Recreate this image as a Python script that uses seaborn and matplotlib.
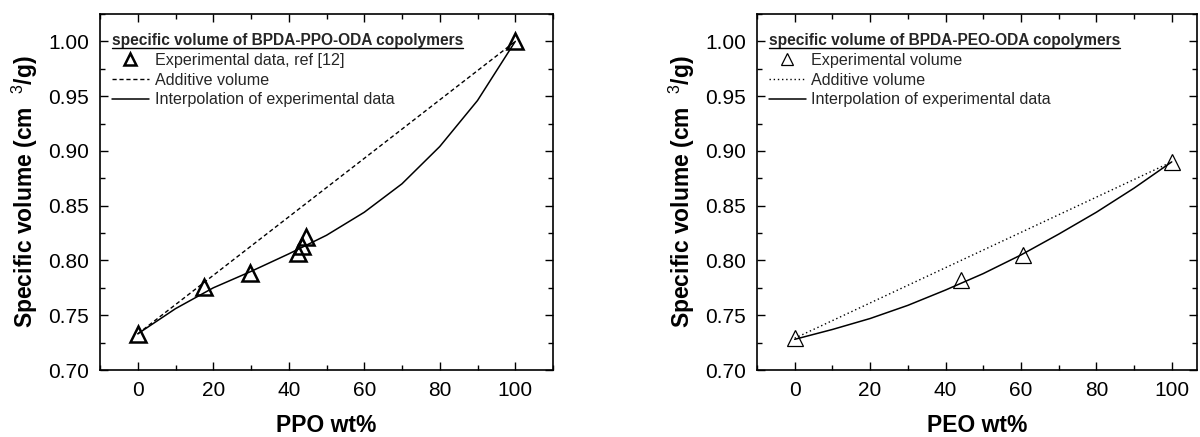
import matplotlib
matplotlib.use("Agg")
import matplotlib.pyplot as plt
import seaborn as sns
import pandas as pd
from matplotlib.lines import Line2D
from matplotlib.ticker import MultipleLocator

# ---------------- data ----------------
ppo_exp_x = [0, 17.5, 29.7, 42.5, 43.5, 44.5, 100]
ppo_exp_y = [0.733, 0.776, 0.789, 0.807, 0.813, 0.821, 1.000]
ppo_add_x = [0, 100]
ppo_add_y = [0.733, 1.000]
ppo_int_x = [0, 10, 20, 30, 40, 50, 60, 70, 80, 90, 100]
ppo_int_y = [0.733, 0.756, 0.775, 0.790, 0.806, 0.823, 0.844, 0.870, 0.904, 0.946, 1.000]

peo_exp_x = [0, 44, 60.5, 100]
peo_exp_y = [0.729, 0.782, 0.805, 0.890]
peo_add_x = [0, 100]
peo_add_y = [0.729, 0.890]
peo_int_x = [0, 10, 20, 30, 40, 50, 60, 70, 80, 90, 100]
peo_int_y = [0.728, 0.737, 0.747, 0.759, 0.773, 0.788, 0.805, 0.824, 0.844, 0.866, 0.890]

x_ticks = [0, 20, 40, 60, 80, 100]
y_ticks = [0.70, 0.75, 0.80, 0.85, 0.90, 0.95, 1.00]

sns.set_theme(style="ticks")
plt.rcParams['font.family'] = ['Liberation Sans', 'DejaVu Sans']
plt.rcParams['mathtext.fontset'] = 'custom'
plt.rcParams['mathtext.rm'] = 'Liberation Sans'

fig = plt.figure(figsize=(12, 4.37), dpi=100)
W, H = 1200, 437
ax1 = fig.add_axes([100 / W, (H - 370) / H, 453 / W, 356 / H])
ax2 = fig.add_axes([757 / W, (H - 370) / H, 440 / W, 356 / H])

panels = [
    (ax1, ppo_exp_x, ppo_exp_y, ppo_add_x, ppo_add_y, ppo_int_x, ppo_int_y,
     "PPO wt%", "specific volume of BPDA-PPO-ODA copolymers",
     ["Experimental data, ref [12]", "Additive volume", "Interpolation of experimental data"],
     (0, (3, 2)), 1.8, (-10, 110)),
    (ax2, peo_exp_x, peo_exp_y, peo_add_x, peo_add_y, peo_int_x, peo_int_y,
     "PEO wt%", "specific volume of BPDA-PEO-ODA copolymers",
     ["Experimental volume", "Additive volume", "Interpolation of experimental data"],
     (0, (1, 2)), 0.9, (-10, 106.7)),
]

titles = []
for (ax, ex, ey, axx, ayy, ix, iy, xl, ttl, labels, ls, mlw, xlim) in panels:
    sns.lineplot(x=axx, y=ayy, ax=ax, color="black", linewidth=1.0, linestyle=ls)
    sns.lineplot(x=ix, y=iy, ax=ax, color="black", linewidth=1.1)
    ax.plot(ex, ey, linestyle="none", marker="^", markersize=11,
            markerfacecolor="none", markeredgecolor="black", markeredgewidth=mlw)
    ax.set_xlim(*xlim)
    ax.set_ylim(0.70, 1.025)
    ax.set_xticks(x_ticks)
    ax.set_yticks(y_ticks)
    ax.set_yticklabels([f"{v:.2f}" for v in y_ticks])
    ax.xaxis.set_minor_locator(MultipleLocator(10))
    ax.yaxis.set_minor_locator(MultipleLocator(0.025))
    ax.tick_params(which="both", direction="in", top=True, right=True,
                   labelsize=15, color="black", labelcolor="black", width=1.0)
    ax.tick_params(which="major", length=6, pad=8)
    ax.tick_params(which="minor", length=3.5)
    for s in ax.spines.values():
        s.set_visible(True)
        s.set_color("black")
        s.set_linewidth(1.2)
    ax.set_xlabel(xl, fontsize=16.5, fontweight="bold", labelpad=10, color="black")
    ax.set_ylabel("Specific volume (cm  $^{3}$/g)", fontsize=16.5, fontweight="bold",
                  labelpad=6, color="black")

    handles = [
        Line2D([], [], linestyle="none", marker="^", markersize=8,
               markerfacecolor="none", markeredgecolor="black", markeredgewidth=mlw),
        Line2D([], [], color="black", linewidth=1.0, linestyle=ls),
        Line2D([], [], color="black", linewidth=1.1),
    ]
    leg = ax.legend(handles, labels, title=ttl, loc="upper left",
                    bbox_to_anchor=(0.012, 0.965), frameon=False, fontsize=11.6,
                    handlelength=2.3, handletextpad=0.35, labelspacing=0.3,
                    borderpad=0.2, borderaxespad=0.2, alignment="left")
    leg.get_title().set_fontweight("bold")
    leg.get_title().set_fontsize(11.2)
    titles.append(leg.get_title())

fig.canvas.draw()
renderer = fig.canvas.get_renderer()
for t in titles:
    bb = t.get_window_extent(renderer)
    y = bb.y0 - 0.5
    fig.add_artist(Line2D([bb.x0 / W, bb.x1 / W], [y / H, y / H],
                          color="black", linewidth=1.0, transform=fig.transFigure))

fig.savefig("out.png", dpi=100)
